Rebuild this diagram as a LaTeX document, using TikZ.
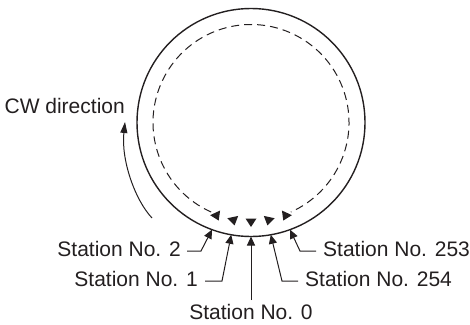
\documentclass[tikz,border=0pt]{standalone}
\usepackage{fontspec}
\setmainfont{Liberation Sans}
\usetikzlibrary{arrows.meta}
\definecolor{ink}{HTML}{231F20}
\begin{document}
\begin{tikzpicture}[x=1pt,y=-1pt,
  lab/.style={font=\fontsize{21}{25}\selectfont, text=ink, inner sep=0pt},
  ring/.style={draw=ink, line width=1.4pt},
  guide/.style={draw=ink, line width=1pt, dash pattern=on 8pt off 5pt},
  leader/.style={draw=ink, line width=1pt, -{Triangle[length=9pt,width=8pt]}},
  flow/.style={draw=ink, line width=1pt, -{Triangle[length=11pt,width=7pt]}},
  token/.style={fill=ink}]
\useasboundingbox (0,0) rectangle (470,324);
\coordinate (c) at (251,122.5);
\path[ring] (c) circle[radius=114];
\path[guide] ([shift={(114:98)}]c) arc[start angle=114, end angle=426, radius=98];
\foreach \a/\r in {110/25,100/12,90/0,80/-12,70/-25}
  \path[token, shift={({251+100*cos(\a)},{122.5+100*sin(\a)})}, rotate=\r]
    (0,4.5) -- (-5.5,-4) -- (5.5,-4) -- cycle;
\foreach \n/\a in {2/110,1/100,0/90,254/80,253/70}
  \coordinate (s\n) at ([shift={(\a:114)}]c);
\node[lab, anchor=east] (cw) at (125,105.5) {CW direction};
\node[lab, anchor=east] (l2) at (181,249) {Station No. 2};
\node[lab, anchor=east] (l1) at (198,279) {Station No. 1};
\node[lab, anchor=north] (l0) at (251,304) {Station No. 0};
\node[lab, anchor=west] (l254) at (305,279) {Station No. 254};
\node[lab, anchor=west] (l253) at (323,249) {Station No. 253};
\coordinate (b2) at (201,251);
\coordinate (b1) at (222,281);
\coordinate (b254) at (282,281);
\coordinate (b253) at (300,251);
\draw[leader] (l2.east) ++(6,2) -- (b2) -- (s2);
\draw[leader] (l1.east) ++(7,2) -- (b1) -- (s1);
\draw[leader] (l0.north) ++(0,-4) -- (s0);
\draw[leader] (l254.west) ++(-7,2) -- (b254) -- (s254);
\draw[leader] (l253.west) ++(-7,2) -- (b253) -- (s253);
\coordinate (cwa) at (152,218);
\coordinate (cwb) at (125,122);
\draw[flow] (cwa) .. controls (135,200) and (121,160) .. (cwb);
\end{tikzpicture}
\end{document}
